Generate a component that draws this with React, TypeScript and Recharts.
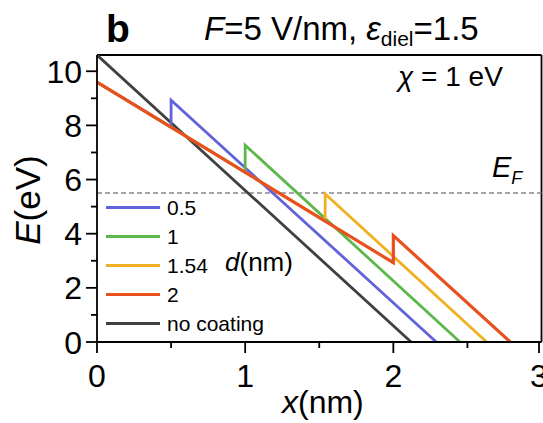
import { LineChart, Line, XAxis, YAxis, ReferenceLine } from "recharts";

// band edge profiles, E in eV vs x in nm (breakpoints)
const noCoating = [
  { x: 0, y: 10.6 },
  { x: 2.12, y: 0 },
];
const coat05 = [
  { x: 0, y: 9.6 },
  { x: 0.5, y: 7.93 },
  { x: 0.5, y: 8.93 },
  { x: 2.29, y: 0 },
];
const coat1 = [
  { x: 0, y: 9.6 },
  { x: 1, y: 6.27 },
  { x: 1, y: 7.27 },
  { x: 2.45, y: 0 },
];
const coat154 = [
  { x: 0, y: 9.6 },
  { x: 1.54, y: 4.47 },
  { x: 1.54, y: 5.47 },
  { x: 2.63, y: 0 },
];
const coat2 = [
  { x: 0, y: 9.6 },
  { x: 2, y: 2.93 },
  { x: 2, y: 3.93 },
  { x: 2.79, y: 0 },
];

const fermiLevel = 5.5;
const xTicks = [0, 0.5, 1, 1.5, 2, 2.5, 3];
const yTicks = [0, 1, 2, 3, 4, 5, 6, 7, 8, 9, 10];
const xMajor = [0, 1, 2, 3];
const yMajor = [0, 2, 4, 6, 8, 10];

const legendLabels = ["0.5", "1", "1.54", "2", "no coating"];
const COLORS = ["#6262dc", "#5cb84a", "#f0b022", "#e8501e", "#404040"];

const FONT = "'Liberation Sans', Arial, sans-serif";

function YTick({ x, y, payload }: any) {
  const major = yMajor.includes(payload.value);
  return (
    <g>
      <line x1={x} x2={x - (major ? 11 : 6)} y1={y} y2={y} stroke="#000" strokeWidth={1.8} />
      {major && (
        <text x={x - 15} y={y} dy="0.36em" textAnchor="end" fontSize={32} fill="#000" fontFamily={FONT}>
          {payload.value}
        </text>
      )}
    </g>
  );
}

function XTick({ x, y, payload }: any) {
  const major = xMajor.includes(payload.value);
  return (
    <g>
      <line x1={x} x2={x} y1={y} y2={y + (major ? 11 : 6)} stroke="#000" strokeWidth={1.8} />
      {major && (
        <text x={x} y={y + 45} textAnchor="middle" fontSize={32} fill="#000" fontFamily={FONT}>
          {payload.value}
        </text>
      )}
    </g>
  );
}

const abs = (left: number, top: number, extra: any = {}) => ({
  position: "absolute" as const,
  left,
  top,
  fontFamily: FONT,
  color: "#000",
  whiteSpace: "nowrap" as const,
  lineHeight: 1,
  ...extra,
});

export default function App() {
  const series = [coat05, coat1, coat154, coat2];
  return (
    <div style={{ position: "absolute", left: 0, top: 0, width: 543, height: 423, background: "#fff" }}>
      <LineChart width={543} height={423} data={noCoating} margin={{ top: 55, right: 1.5, left: 17, bottom: 41 }}>
        <XAxis
          dataKey="x"
          type="number"
          domain={[0, 3]}
          ticks={xTicks}
          tickSize={0}
          tickMargin={0}
          tick={<XTick />}
          axisLine={{ stroke: "#000", strokeWidth: 1.8 }}
          height={40}
          allowDataOverflow
        />
        <YAxis
          type="number"
          domain={[0, 10.6]}
          ticks={yTicks}
          tickSize={0}
          tickMargin={0}
          tick={<YTick />}
          axisLine={{ stroke: "#000", strokeWidth: 1.8 }}
          width={80}
          allowDataOverflow
        />
        <ReferenceLine y={10.6} stroke="#000" strokeWidth={1.8} />
        <ReferenceLine x={3} stroke="#000" strokeWidth={1.8} />
        <ReferenceLine y={fermiLevel} stroke="#888" strokeWidth={1.5} strokeDasharray="5 3" />
        <Line data={noCoating} dataKey="y" stroke={COLORS[4]} strokeWidth={2.8} dot={false} isAnimationActive={false} />
        {series.map((s, i) => (
          <Line
            key={i}
            data={s}
            dataKey="y"
            stroke={COLORS[i]}
            strokeWidth={i === 3 ? 3.2 : 2.8}
            dot={false}
            isAnimationActive={false}
          />
        ))}
      </LineChart>

      {/* annotations */}
      <div style={abs(106, 9, { fontSize: 39, fontWeight: "bold" })}>b</div>
      <div style={abs(204, 12, { fontSize: 33 })}>
        <i>F</i>=5 V/nm, <i>ε</i>
        <sub style={{ fontSize: 21, verticalAlign: "-0.3em" }}>diel</sub>=1.5
      </div>
      <div style={abs(398, 63, { fontSize: 28 })}>
        <i>χ</i> = 1 eV
      </div>
      <div style={abs(492, 153, { fontSize: 29 })}>
        <i>E</i>
        <sub style={{ fontSize: 18, verticalAlign: "-0.4em" }}>
          <i>F</i>
        </sub>
      </div>
      <div style={abs(225, 249, { fontSize: 26 })}>
        <i>d</i>(nm)
      </div>
      <div style={abs(282, 386, { fontSize: 32 })}>
        <i>x</i>(nm)
      </div>
      <div
        style={abs(27, 200, {
          fontSize: 35,
          transform: "translate(-50%, -50%) rotate(-90deg)",
        })}
      >
        <i>E</i>(eV)
      </div>

      {/* legend */}
      {legendLabels.map((lab, i) => (
        <div key={lab} style={abs(106, 207 + i * 29 - 12, { height: 24, display: "flex", alignItems: "center" })}>
          <div style={{ width: 54, height: 3, background: COLORS[i] }} />
          <span style={{ fontSize: 21, marginLeft: 7 }}>{lab}</span>
        </div>
      ))}
    </div>
  );
}
